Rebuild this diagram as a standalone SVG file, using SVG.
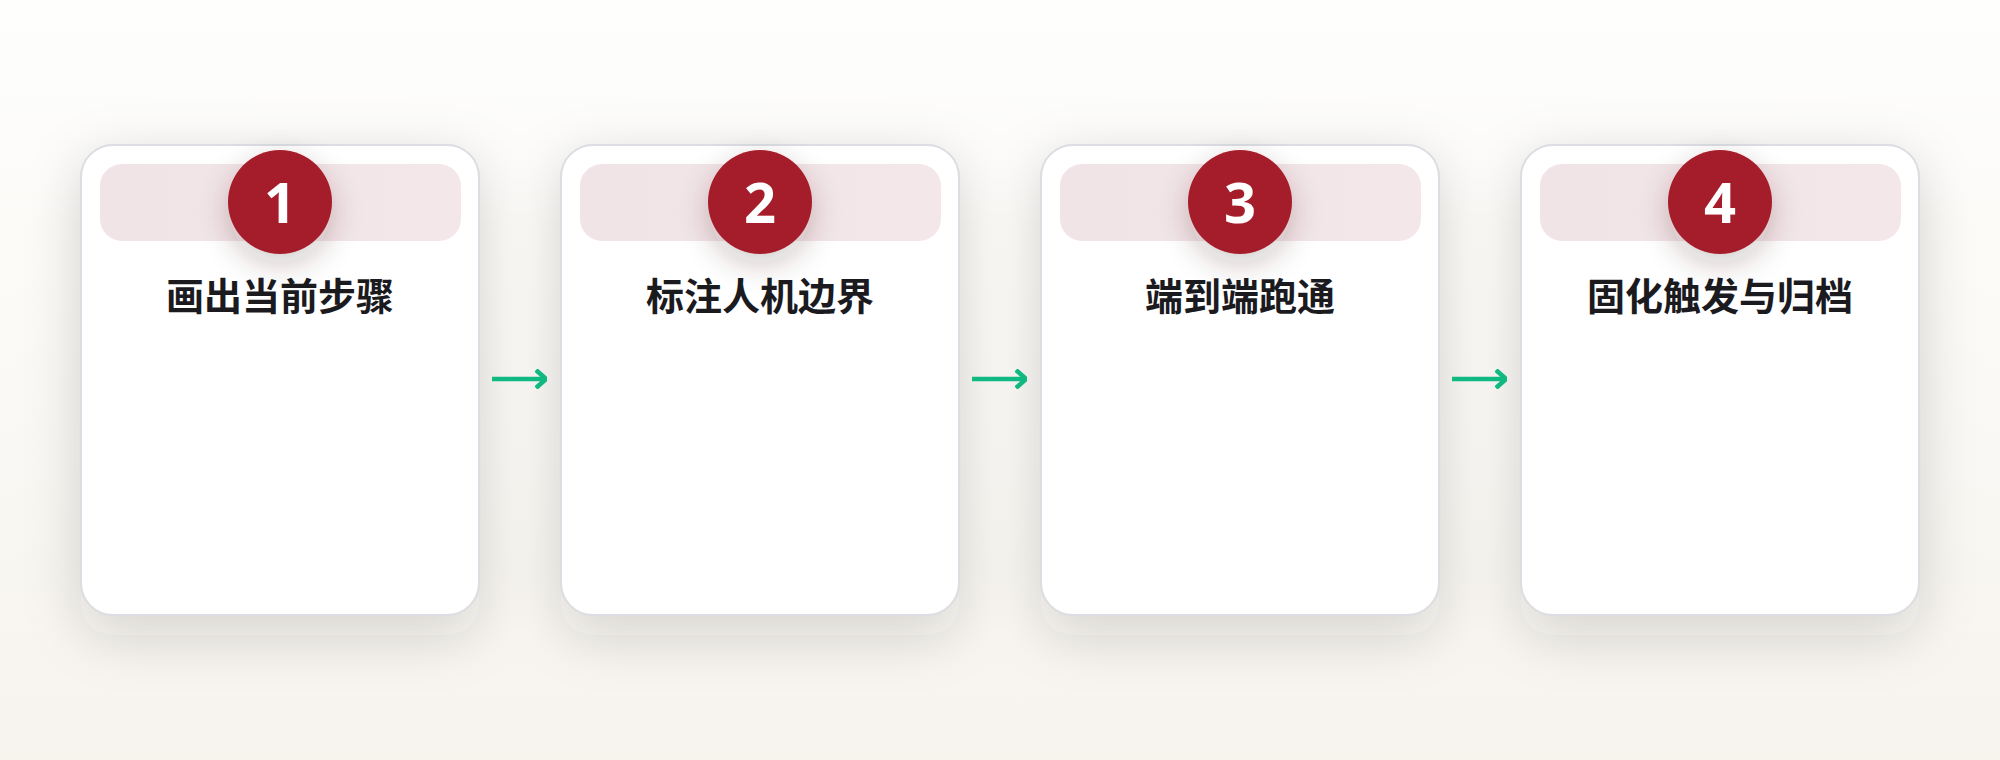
<svg xmlns="http://www.w3.org/2000/svg" width="2000" height="760" viewBox="0 0 2000 760">
  <defs>
    <linearGradient id="bg" x1="0" y1="0" x2="0" y2="1">
      <stop offset="0" stop-color="#fefefd"/>
      <stop offset="1" stop-color="#f7f4ee"/>
    </linearGradient>
    <linearGradient id="band" x1="0" y1="0" x2="1" y2="0">
      <stop offset="0" stop-color="#f1e4e7"/>
      <stop offset="1" stop-color="#f4e7ea"/>
    </linearGradient>
    <filter id="blurBig" filterUnits="userSpaceOnUse" x="-200" y="0" width="2400" height="760">
      <feGaussianBlur stdDeviation="28"/>
    </filter>
    <filter id="badgeShadow" x="-100%" y="-100%" width="300%" height="300%">
      <feDropShadow dx="0" dy="10" stdDeviation="15" flood-color="#3a1a1f" flood-opacity="0.24"/>
    </filter>
    <marker id="arrow" viewBox="0 0 12 20" refX="11" refY="10" markerWidth="12" markerHeight="20" markerUnits="userSpaceOnUse" orient="auto">
      <path d="M1,1 L11,10 L1,19" fill="none" stroke="#10b981" stroke-width="4.5" stroke-linejoin="miter"/>
    </marker>
    <style>
      .shadow { fill: #2e2e30; fill-opacity: 0.17; }
      .card { fill: #ffffff; stroke: #dcdce3; stroke-width: 2; }
      .band { fill: url(#band); }
      .badge { fill: #a51c2b; }
      .num { font-family: "Open Sans", "Noto Sans", "Liberation Sans", sans-serif; font-weight: 700; font-size: 56px; fill: #ffffff; text-anchor: middle; }
      .title { font-family: "Noto Sans CJK SC", "Noto Sans", sans-serif; font-weight: 700; font-size: 38px; fill: #1b1b1f; text-anchor: middle; }
      .conn { stroke: #10b981; stroke-width: 4.5; fill: none; }
    </style>
  </defs>

  <rect x="0" y="0" width="2000" height="760" fill="url(#bg)"/>

  <g id="shadows" filter="url(#blurBig)">
    <rect class="shadow" x="81" y="160" width="398" height="475" rx="32"/>
    <rect class="shadow" x="561" y="160" width="398" height="475" rx="32"/>
    <rect class="shadow" x="1041" y="160" width="398" height="475" rx="32"/>
    <rect class="shadow" x="1521" y="160" width="398" height="475" rx="32"/>
  </g>

  <g id="step1">
    <rect class="card" x="81" y="145" width="398" height="470" rx="32"/>
    <rect class="band" x="100" y="164" width="361" height="77" rx="22"/>
    <circle class="badge" cx="280" cy="202" r="52" filter="url(#badgeShadow)"/>
    <text class="num" x="280" y="223">1</text>
    <text class="title" x="280" y="310">画出当前步骤</text>
  </g>

  <g id="step2">
    <rect class="card" x="561" y="145" width="398" height="470" rx="32"/>
    <rect class="band" x="580" y="164" width="361" height="77" rx="22"/>
    <circle class="badge" cx="760" cy="202" r="52" filter="url(#badgeShadow)"/>
    <text class="num" x="760" y="223">2</text>
    <text class="title" x="760" y="310">标注人机边界</text>
  </g>

  <g id="step3">
    <rect class="card" x="1041" y="145" width="398" height="470" rx="32"/>
    <rect class="band" x="1060" y="164" width="361" height="77" rx="22"/>
    <circle class="badge" cx="1240" cy="202" r="52" filter="url(#badgeShadow)"/>
    <text class="num" x="1240" y="223">3</text>
    <text class="title" x="1240" y="310">端到端跑通</text>
  </g>

  <g id="step4">
    <rect class="card" x="1521" y="145" width="398" height="470" rx="32"/>
    <rect class="band" x="1540" y="164" width="361" height="77" rx="22"/>
    <circle class="badge" cx="1720" cy="202" r="52" filter="url(#badgeShadow)"/>
    <text class="num" x="1720" y="223">4</text>
    <text class="title" x="1720" y="310">固化触发与归档</text>
  </g>

  <g id="connectors">
    <line class="conn" x1="492" y1="379" x2="546" y2="379" marker-end="url(#arrow)"/>
    <line class="conn" x1="972" y1="379" x2="1026" y2="379" marker-end="url(#arrow)"/>
    <line class="conn" x1="1452" y1="379" x2="1506" y2="379" marker-end="url(#arrow)"/>
  </g>
</svg>
